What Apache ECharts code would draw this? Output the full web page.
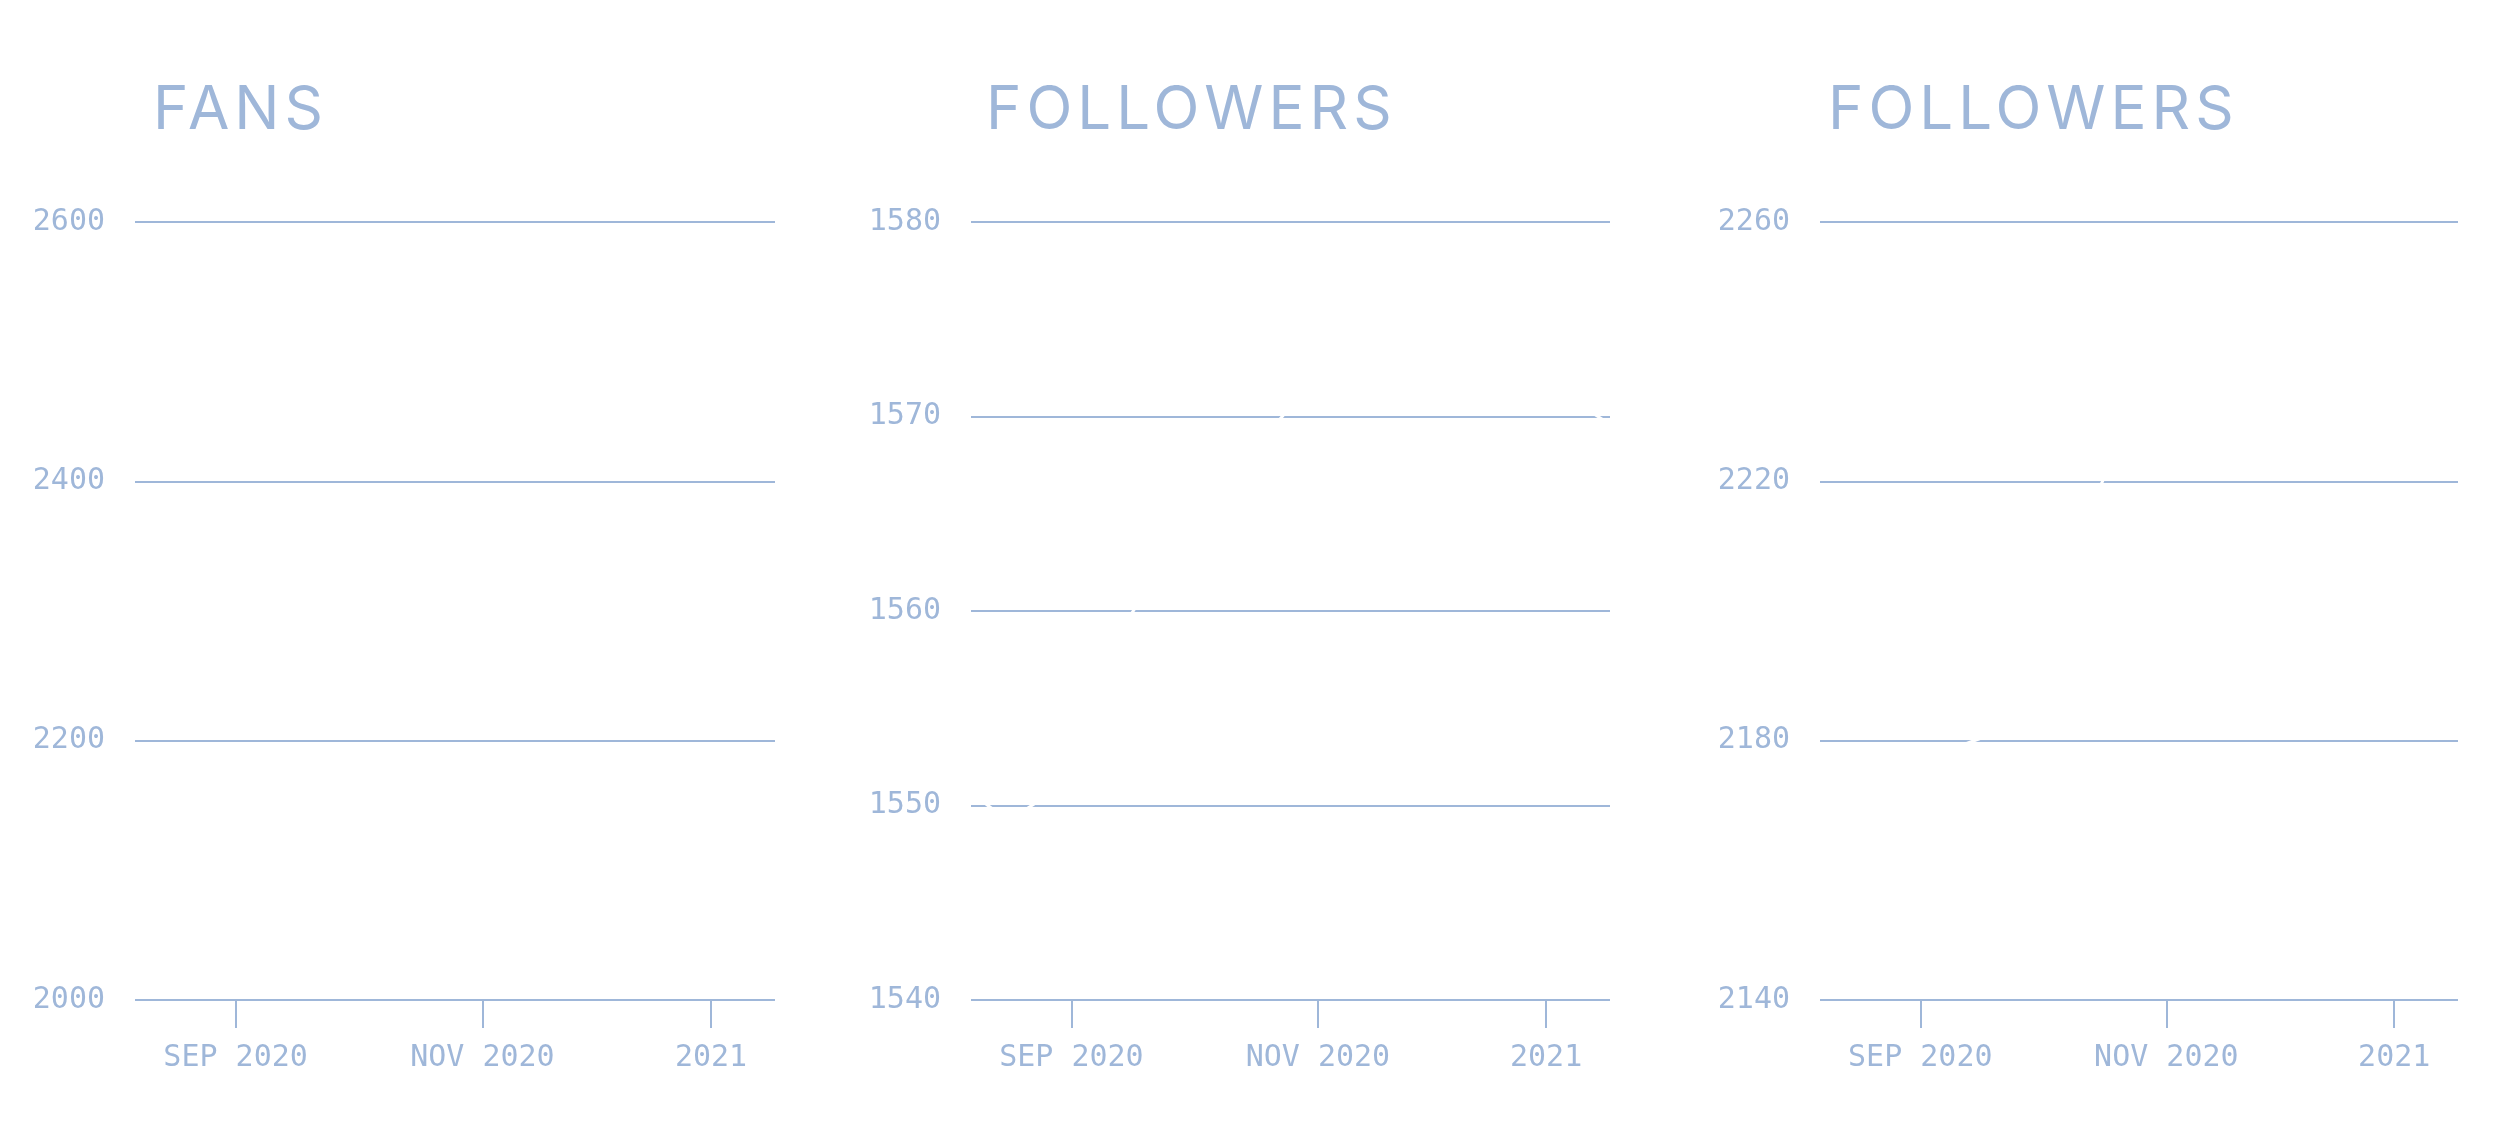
<!DOCTYPE html>
<html>
<head>
<meta charset="utf-8">
<script src="https://cdn.jsdelivr.net/npm/echarts@6/dist/echarts.min.js"></script>
<style>
  html, body { margin: 0; padding: 0; background: #fff; }
  #wrap { position: relative; width: 2500px; height: 1147px; }
  #main { position: absolute; left: 0; top: 0; width: 2500px; height: 1147px; }
  .ttl {
    position: absolute; top: 77px; height: 60px; line-height: 60px;
    font-family: Inter, "Noto Sans", sans-serif; font-size: 60px; font-weight: 400;
    letter-spacing: 5px; color: #9fb7d9; white-space: nowrap;
  }
</style>
</head>
<body>
<div id="wrap">
  <div id="main"></div>
  <div class="ttl" style="left:153px">FANS</div>
  <div class="ttl" style="left:986px">FOLLOWERS</div>
  <div class="ttl" style="left:1828px">FOLLOWERS</div>
</div>
<script>
// x positions of the samples along the period (axis runs 0..140)
const xPos = [0, 2, 4, 6, 10, 14, 20, 28, 35, 42, 50, 58, 66, 70, 80, 90, 100, 110, 120, 130, 136, 140]

const tickPos = [22, 76, 126]
const tickLabels = ['SEP 2020', 'NOV 2020', '2021']

const fans = [2232, 2234, 2236, 2238, 2242, 2247, 2255, 2266, 2276, 2286, 2298, 2309, 2320, 2325, 2336, 2346, 2355, 2362, 2368, 2373, 2376, 2378]
const followersA = [1550.5, 1550.3, 1549.95, 1549.6, 1549.5, 1550.1, 1552.2, 1556.4, 1559.8, 1562.4, 1565.0, 1567.3, 1569.4, 1570.5, 1571.4, 1571.9, 1572.1, 1571.8, 1571.3, 1570.7, 1570.2, 1569.6]
const followersB = [2168, 2169, 2170, 2171, 2172, 2174, 2176, 2178.5, 2180.3, 2185, 2196, 2214, 2226, 2228, 2232, 2236, 2239, 2241, 2243, 2245, 2246, 2247]

const yRanges = [
  { min: 2000, max: 2600, interval: 200 },
  { min: 1540, max: 1580, interval: 10 },
  { min: 2140, max: 2260, interval: 40 }
]

const color = '#9fb7d9'
const mono = '"DejaVu Sans Mono", "Liberation Mono", monospace'
const grids = [
  { left: 135, width: 640, top: 222, height: 778 },
  { left: 971, width: 639, top: 222, height: 778 },
  { left: 1820, width: 638, top: 222, height: 778 }
]

const seriesData = [fans, followersA, followersB]

const option = {
  animation: false,
  backgroundColor: '#fff',
  grid: grids,
  xAxis: grids.map((g, i) => ({
    type: 'value',
    gridIndex: i,
    min: 0,
    max: 140,
    axisLine: { show: false },
    splitLine: { show: false },
    axisTick: {
      show: true,
      customValues: tickPos,
      length: 28,
      lineStyle: { color: color, width: 2 }
    },
    axisLabel: {
      customValues: tickPos,
      formatter: (v) => tickLabels[tickPos.indexOf(v)],
      margin: 43,
      color: color,
      fontFamily: mono,
      fontSize: 30
    }
  })),
  yAxis: yRanges.map((r, i) => ({
    type: 'value',
    gridIndex: i,
    min: r.min,
    max: r.max,
    interval: r.interval,
    axisLine: { show: false },
    axisTick: { show: false },
    splitLine: { lineStyle: { color: color, width: 2 } },
    axisLabel: {
      margin: 30,
      color: color,
      fontFamily: mono,
      fontSize: 30,
      formatter: (v) => String(v)
    }
  })),
  series: seriesData.map((vals, i) => ({
    type: 'line',
    xAxisIndex: i,
    yAxisIndex: i,
    showSymbol: false,
    lineStyle: { color: '#ffffff', width: 3 },
    data: xPos.map((x, k) => [x, vals[k]])
  }))
}

const chart = echarts.init(document.getElementById('main'))
chart.setOption(option)
</script>
</body>
</html>
